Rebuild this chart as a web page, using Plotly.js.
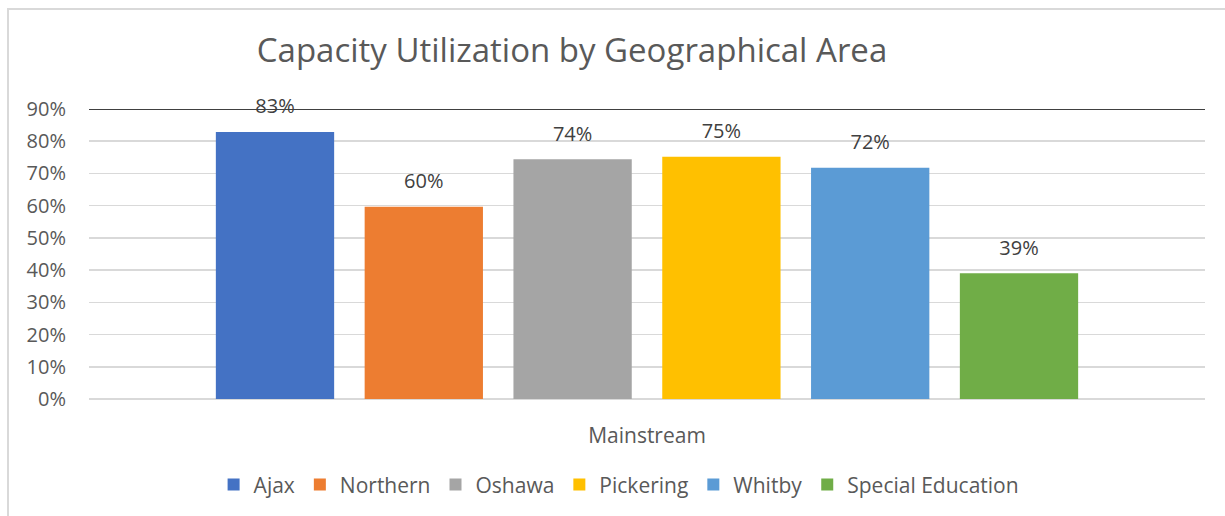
<!DOCTYPE html>
<html><head><meta charset="utf-8">
<script src="https://cdn.plot.ly/plotly-3.0.1.min.js"></script>
<style>
html,body{margin:0;padding:0;background:#fff;overflow:hidden}
#frame{position:absolute;left:7px;top:8px;width:1218px;height:508px;border-left:2px solid #d9d9d9;border-top:2px solid #d9d9d9;}
#chart{width:1216px;height:506px;}
</style></head><body>
<div id="frame"><div id="chart"></div></div>
<script>
const categories = ['Mainstream'];
const seriesNames = ['Ajax', 'Northern', 'Oshawa', 'Pickering', 'Whitby', 'Special Education'];
const seriesValues = [0.829, 0.597, 0.744, 0.752, 0.718, 0.39];
const seriesColors = ['#4472C4', '#ED7D31', '#A5A5A5', '#FFC000', '#5B9BD5', '#70AD47'];
const yTickValues = [0, 0.1, 0.2, 0.3, 0.4, 0.5, 0.6, 0.7, 0.8, 0.9];
const yMax = 0.9;

const FONT = '"Open Sans", "Noto Sans", sans-serif';

const bars = seriesNames.map((name, i) => ({
  type: 'bar',
  name: name,
  x: categories,
  y: [seriesValues[i]],
  offsetgroup: name,
  marker: {color: seriesColors[i]},
  hoverinfo: 'skip'
}));

const labels = seriesNames.map((name, i) => ({
  type: 'scatter',
  mode: 'markers+text',
  x: categories,
  y: [seriesValues[i]],
  offsetgroup: name,
  text: [Math.round(seriesValues[i] * 100) + '%'],
  textposition: 'top center',
  textfont: {family: FONT, size: 20, color: '#404040'},
  marker: {size: 20, opacity: 0},
  showlegend: false,
  hoverinfo: 'skip',
  cliponaxis: false
}));

const layout = {
  width: 1216, height: 506,
  margin: {l: 80, r: 20, t: 99, b: 116},
  paper_bgcolor: '#fff', plot_bgcolor: '#fff',
  font: {family: FONT, color: '#595959'},
  title: {text: 'Capacity Utilization by Geographical Area', font: {family: FONT, size: 33, color: '#595959'},
          x: 0.463, xanchor: 'center', xref: 'container', y: 0.921, yanchor: 'middle', yref: 'container'},
  barmode: 'group', bargap: 0.2, bargroupgap: 0.205,
  scattermode: 'group', scattergap: 0.2,
  xaxis: {type: 'category', showgrid: false, showline: false, zeroline: false,
          ticks: 'outside', ticklen: 18, tickcolor: 'rgba(0,0,0,0)',
          tickfont: {family: FONT, size: 21, color: '#595959'}},
  yaxis: {range: [0, yMax], tickvals: yTickValues, tickformat: '.0%',
          showgrid: true, gridcolor: '#d9d9d9', gridwidth: 1.5,
          zeroline: true, zerolinecolor: '#d9d9d9', zerolinewidth: 1.5, showline: false,
          ticks: 'outside', ticklen: 18, tickcolor: 'rgba(0,0,0,0)',
          tickfont: {family: FONT, size: 20, color: '#595959'}},
  shapes: [{type: 'line', xref: 'paper', x0: 0, x1: 1, yref: 'y', y0: yMax, y1: yMax,
            line: {color: '#404040', width: 2}}],
  legend: {orientation: 'h', x: 0.475, xanchor: 'center', y: -0.292, yanchor: 'middle',
           font: {family: FONT, size: 21, color: '#595959'}, traceorder: 'normal'},
  showlegend: true
};

Plotly.newPlot('chart', bars.concat(labels), layout, {displayModeBar: false, staticPlot: true});
</script>
</body></html>
